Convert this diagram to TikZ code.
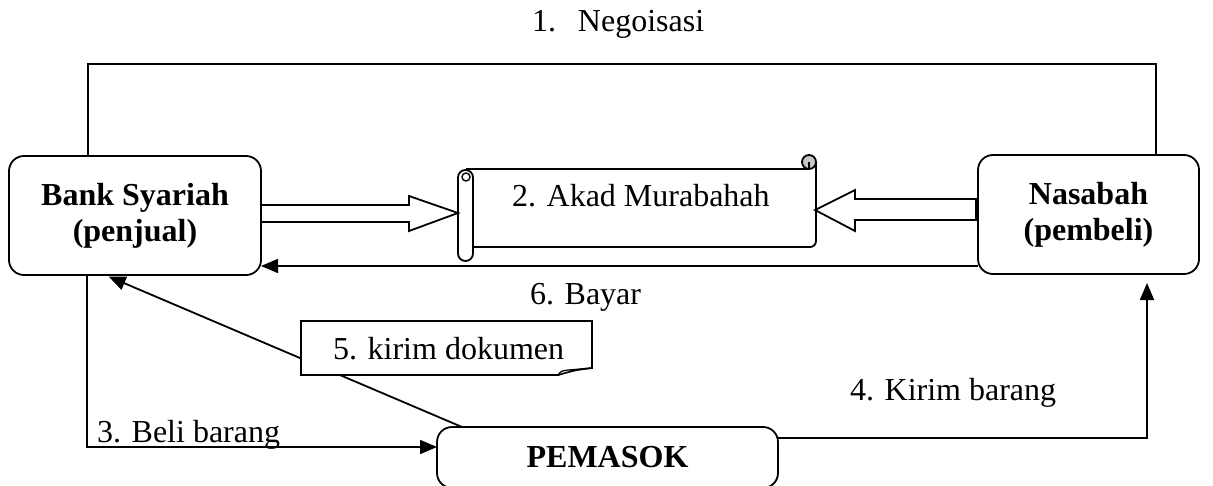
\documentclass[tikz,border=0pt]{standalone}
\usepackage{fontspec}
\setmainfont{Liberation Serif}
\usetikzlibrary{arrows.meta}
\begin{document}
\begin{tikzpicture}[x=0.5pt,y=-0.5pt,
  every node/.style={font=\fontsize{16}{18}\selectfont, inner sep=0pt, outer sep=0pt},
  line/.style={line width=0.9pt, line join=miter},
  box/.style={draw, line width=0.9pt, rounded corners=7.5pt, fill=white, align=center,
              font=\fontsize{16}{18}\selectfont\bfseries},
  head/.style={-{Triangle[length=8.5pt,width=7pt]}},
  lbl/.style={anchor=base west},
]
\useasboundingbox (0,0) rectangle (1213,486);
\clip (0,0) rectangle (1213,486);

% parties
\node[box, minimum width=126pt, minimum height=59.5pt] (bank) at (135,215.5) {Bank Syariah\\(penjual)};
\node[box, minimum width=110.5pt, minimum height=59.5pt] (nasabah) at (1088.5,214.5) {Nasabah\\(pembeli)};
\node[box, minimum width=170.5pt, minimum height=30.5pt] (pemasok) at (607.5,457.5) {PEMASOK};

% 1. negotiation line over the top
\coordinate (nl) at (88,64);
\coordinate (nr) at (1156,64);
\draw[line] (nl |- bank.north) -- (nl) -- (nr) -- (nr |- nasabah.north);
\node[lbl] (t1) at (532,32) {1.\hspace{11pt}Negoisasi};

% 2. contract scroll
\fill[white] (466,169) rectangle (816,247);
\draw[line] (466,169) -- (809,169);
\draw[line, rounded corners=3pt] (816,162) -- (816,247) -- (473,247);
\draw[line, fill=gray!45] (809,162) circle[radius=3.5pt];
\draw[line] (809,162) -- (809,169);
\draw[line, fill=white, rounded corners=3.7pt] (458,170) rectangle (473,261);
\draw[line width=0.7pt] (466,177) circle[radius=2pt];
\node[lbl] (akad) at (512,206) {2. Akad Murabahah};

% block arrows into the contract
\draw[line, fill=white] (262,205) -- (409,205) -- (409,196) -- (458,213) -- (409,231) -- (409,222) -- (262,222);
\draw[line, fill=white] (976,199) -- (855,199) -- (855,190) -- (815,210) -- (855,231) -- (855,220) -- (976,220) -- cycle;

% 6. payment
\coordinate (by) at (0,266);
\draw[line, head] (nasabah.west |- by) -- (bank.east |- by);
\node[lbl] (t6) at (530,304) {6. Bayar};

% 5. documents sent to the bank
\coordinate (k5) at (462,0);
\coordinate (k5t) at (105,0);
\draw[line, head, shorten >=2pt] (pemasok.north -| k5) -- (bank.south -| k5t);
\draw[line, fill=white] (301,321) -- (592,321) -- (592,368) .. controls (575,370) .. (558,375) -- (301,375) -- cycle;
\draw[line width=0.6pt, fill=gray!35] (558,375) .. controls (561,371) .. (568,370) -- (592,368) .. controls (575,370) .. (558,375);
\node[lbl] (dok) at (333,359) {5. kirim dokumen};

% 3. purchase of goods
\coordinate (c3) at (87,447);
\draw[line, head] (c3 |- bank.south) -- (c3) -- (c3 -| pemasok.west);
\node[lbl] (t3) at (97,442) {3. Beli barang};

% 4. delivery of goods
\coordinate (c4) at (1147,438);
\draw[line, head, shorten >=4.5pt] (c4 -| pemasok.east) -- (c4) -- (c4 |- nasabah.south);
\node[lbl] (t4) at (850,400) {4. Kirim barang};
\end{tikzpicture}
\end{document}
